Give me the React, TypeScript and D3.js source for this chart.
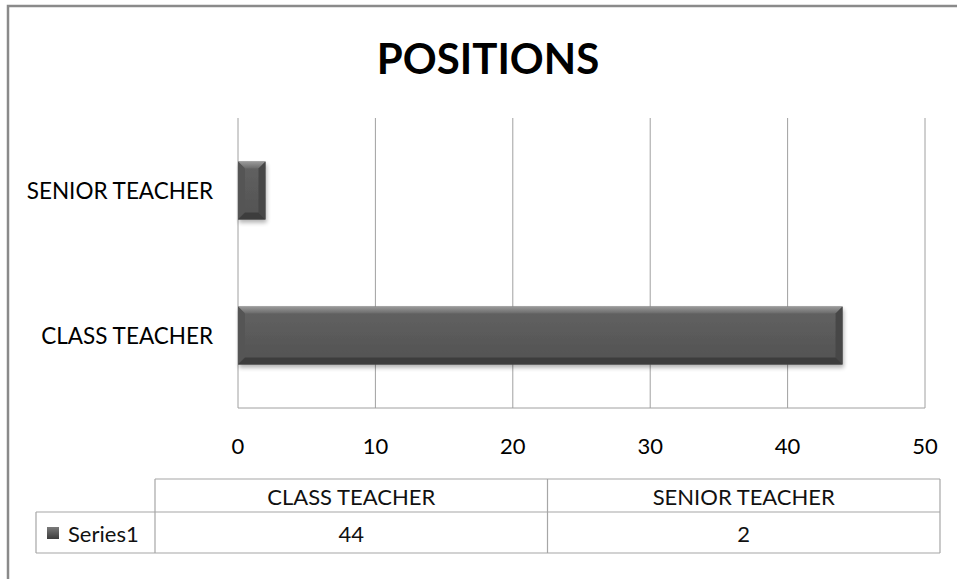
import React from "react";
import * as d3 from "d3";

const title = "POSITIONS";
const categories = ["CLASS TEACHER", "SENIOR TEACHER"];
const seriesName = "Series1";
const values = [44, 2];
const xTicks = [0, 10, 20, 30, 40, 50];

const W = 957;
const H = 579;
const FONT = "Lato, 'Open Sans', sans-serif";

export default function App() {
  const plot = { left: 238, right: 925, top: 118, bottom: 408 };
  const x = d3.scaleLinear().domain([0, 50]).range([plot.left, plot.right]);
  // category axis: first category at the bottom
  const y = d3
    .scaleBand<string>()
    .domain([...categories].reverse())
    .range([plot.top, plot.bottom])
    .paddingInner(0.6)
    .paddingOuter(0.3);

  const tbl = { top: 479, mid: 512, bottom: 553, keyLeft: 36, left: 155, right: 940 };
  const colW = (tbl.right - tbl.left) / categories.length;

  const bevel = 7;

  return (
    <svg
      width={W}
      height={H}
      style={{ position: "absolute", left: 0, top: 0, background: "#fff" }}
      fontFamily={FONT}
    >
      <defs>
        <linearGradient id="barFill" x1="0" y1="0" x2="0" y2="1">
          <stop offset="0" stopColor="#626262" />
          <stop offset="1" stopColor="#525252" />
        </linearGradient>
        <linearGradient id="topBevel" x1="0" y1="0" x2="0" y2="1">
          <stop offset="0" stopColor="#9a9a9a" />
          <stop offset="1" stopColor="#6a6a6a" />
        </linearGradient>
        <linearGradient id="keyFill" x1="0" y1="0" x2="0" y2="1">
          <stop offset="0" stopColor="#7a7a7a" />
          <stop offset="1" stopColor="#3c3c3c" />
        </linearGradient>
        <filter id="shadow" x="-10%" y="-20%" width="130%" height="160%">
          <feGaussianBlur in="SourceAlpha" stdDeviation="2" />
          <feOffset dx="1" dy="3" result="b" />
          <feComponentTransfer>
            <feFuncA type="linear" slope="0.3" />
          </feComponentTransfer>
          <feMerge>
            <feMergeNode />
            <feMergeNode in="SourceGraphic" />
          </feMerge>
        </filter>
      </defs>

      {/* outer frame */}
      <rect x={8} y={6} width={W + 20} height={H + 20} fill="none" stroke="#8a8a8a" strokeWidth={2.5} />

      {/* title */}
      <text x={488} y={58} textAnchor="middle" dominantBaseline="central" fontSize={42} fontWeight="bold" fill="#000">
        {title}
      </text>

      {/* gridlines */}
      {xTicks.map((t) => (
        <line key={t} x1={x(t)} x2={x(t)} y1={plot.top} y2={plot.bottom} stroke="#a0a0a0" strokeWidth={1} />
      ))}
      <line x1={plot.left} x2={plot.right} y1={plot.bottom} y2={plot.bottom} stroke="#a0a0a0" strokeWidth={1} />

      {/* tick labels */}
      {xTicks.map((t) => (
        <text key={t} x={x(t)} y={445} textAnchor="middle" dominantBaseline="central" fontSize={22} fill="#000">
          {t}
        </text>
      ))}

      {/* category labels */}
      {categories.map((c) => (
        <text
          key={c}
          x={213}
          y={(y(c) as number) + y.bandwidth() / 2}
          textAnchor="end"
          dominantBaseline="central"
          fontSize={22.5}
          fill="#000"
        >
          {c}
        </text>
      ))}

      {/* bars */}
      {categories.map((c, i) => {
        const x0 = x(0);
        const x1 = x(values[i]);
        const y0 = y(c) as number;
        const h = y.bandwidth();
        const y1 = y0 + h;
        const b = Math.min(bevel, (x1 - x0) / 3);
        return (
          <g key={c} filter="url(#shadow)">
            <rect x={x0} y={y0} width={x1 - x0} height={h} fill="url(#barFill)" />
            <polygon points={`${x0},${y0} ${x1},${y0} ${x1 - b},${y0 + b} ${x0 + b},${y0 + b}`} fill="url(#topBevel)" />
            <polygon points={`${x0},${y0} ${x0 + b},${y0 + b} ${x0 + b},${y1 - b} ${x0},${y1}`} fill="#555" />
            <polygon points={`${x1},${y0} ${x1},${y1} ${x1 - b},${y1 - b} ${x1 - b},${y0 + b}`} fill="#474747" />
            <polygon points={`${x0},${y1} ${x0 + b},${y1 - b} ${x1 - b},${y1 - b} ${x1},${y1}`} fill="#3e3e3e" />
          </g>
        );
      })}

      {/* data table */}
      <g stroke="#a6a6a6" strokeWidth={1.2} fill="none">
        <line x1={tbl.left} x2={tbl.right} y1={tbl.top} y2={tbl.top} />
        <line x1={tbl.keyLeft} x2={tbl.right} y1={tbl.mid} y2={tbl.mid} />
        <line x1={tbl.keyLeft} x2={tbl.right} y1={tbl.bottom} y2={tbl.bottom} />
        <line x1={tbl.keyLeft} x2={tbl.keyLeft} y1={tbl.mid} y2={tbl.bottom} />
        {d3.range(categories.length + 1).map((k) => (
          <line key={k} x1={tbl.left + k * colW} x2={tbl.left + k * colW} y1={tbl.top} y2={tbl.bottom} />
        ))}
      </g>
      {categories.map((c, i) => (
        <g key={c}>
          <text
            x={tbl.left + (i + 0.5) * colW}
            y={(tbl.top + tbl.mid) / 2 + 1}
            textAnchor="middle"
            dominantBaseline="central"
            fontSize={22}
            fill="#111"
          >
            {c}
          </text>
          <text
            x={tbl.left + (i + 0.5) * colW}
            y={(tbl.mid + tbl.bottom) / 2 + 1}
            textAnchor="middle"
            dominantBaseline="central"
            fontSize={22}
            fill="#111"
          >
            {values[i]}
          </text>
        </g>
      ))}
      <rect x={47} y={527} width={12} height={12} fill="url(#keyFill)" />
      <text x={68} y={(tbl.mid + tbl.bottom) / 2 + 1} dominantBaseline="central" fontSize={22} fill="#111">
        {seriesName}
      </text>
    </svg>
  );
}
